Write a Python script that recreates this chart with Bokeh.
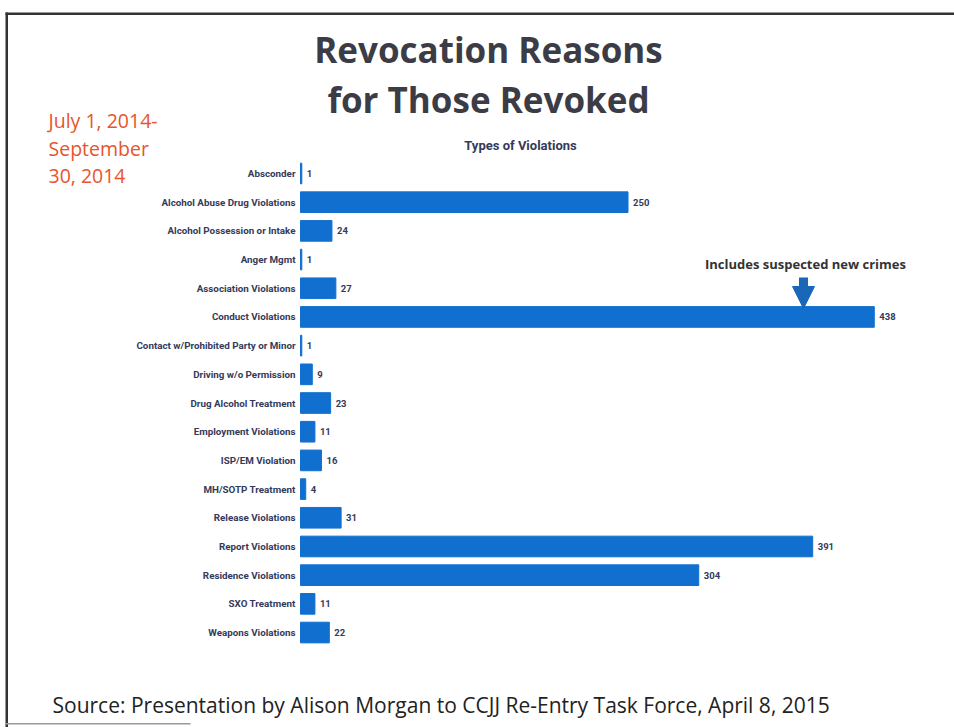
from bokeh.plotting import figure
from bokeh.models import (ColumnDataSource, Range1d, Label,
                          Arrow, NormalHead, BoxAnnotation)
from bokeh.core.properties import value
from bokeh.embed import file_html
from bokeh.resources import INLINE

categories = [
    "Absconder",
    "Alcohol Abuse Drug Violations",
    "Alcohol Possession or Intake",
    "Anger Mgmt",
    "Association Violations",
    "Conduct Violations",
    "Contact w/Prohibited Party or Minor",
    "Driving w/o Permission",
    "Drug Alcohol Treatment",
    "Employment Violations",
    "ISP/EM Violation",
    "MH/SOTP Treatment",
    "Release Violations",
    "Report Violations",
    "Residence Violations",
    "SXO Treatment",
    "Weapons Violations",
]
values = [1, 250, 24, 1, 27, 438, 1, 9, 23, 11, 16, 4, 31, 391, 304, 11, 22]

title_lines = ["Revocation Reasons", "for Those Revoked"]
subtitle = "Types of Violations"
date_lines = ["July 1, 2014-", "September", "30, 2014"]
note = "Includes suspected new crimes"
source_text = "Source: Presentation by Alison Morgan to CCJJ Re-Entry Task Force, April 8, 2015"

W, H = 954, 727
X0 = 300          # page pixel of the zero line
XS = 1.31         # pixels per violation
Y0 = 173          # page pixel of first category row
YS = 28.69        # pixels per category row

# the plot frame covers the whole page; ranges map data onto the page layout
p = figure(width=W, height=H, output_backend="svg", toolbar_location=None,
           x_range=Range1d(-X0 / XS, (W - X0) / XS),
           y_range=Range1d((H - Y0) / YS, -Y0 / YS),
           min_border=0)
p.outline_line_color = None
p.grid.visible = False
p.axis.visible = False
p.background_fill_color = "white"
p.border_fill_color = "white"

rows = list(range(len(categories)))
src = ColumnDataSource(dict(cat=categories, row=rows, value=values,
                            label=[str(v) for v in values], zero=[0] * len(values)))

p.hbar(y="row", right="value", left=0, height=0.72, source=src,
       fill_color="#1170cf", line_color="#1170cf")

LABEL_COLOR = "#343a5a"
p.text(x="zero", y="row", text="cat", source=src, x_offset=-5,
       text_align="right", text_baseline="middle",
       text_font=value("Roboto"), text_font_style="bold",
       text_font_size="9.8px", text_color=LABEL_COLOR)
p.text(x="value", y="row", text="label", source=src, x_offset=5,
       text_align="left", text_baseline="middle",
       text_font=value("Roboto"), text_font_style="bold",
       text_font_size="9.5px", text_color=LABEL_COLOR)


def lab(text, x, y, size, color, font="Open Sans", style="bold", align="left"):
    # x, y: page pixels (y downward), y is the vertical middle of the text
    p.add_layout(Label(x=x, y=H - y, x_units="screen", y_units="screen",
                       text=text, text_font=font, text_font_style=style,
                       text_font_size=size, text_color=color, text_align=align,
                       text_baseline="middle"))


lab(title_lines[0], 488, 49, "35px", "#3c3c46", align="center")
lab(title_lines[1], 488, 99, "35px", "#3c3c46", align="center")
lab(subtitle, 520, 145, "13px", LABEL_COLOR, font="Roboto", align="center")
for i, t in enumerate(date_lines):
    lab(t, 48, 120 + i * 27.5, "19.5px", "#e8542c", style="normal")
lab(note, 805, 263, "13px", "#333333", align="center")
lab(source_text, 52, 704, "21px", "#222222", style="normal")

p.add_layout(Arrow(x_start=803, y_start=H - 277, x_end=803, y_end=H - 308,
                   start_units="screen", end_units="screen",
                   line_width=9, line_color="#1a66b8",
                   end=NormalHead(size=22, fill_color="#1a66b8", line_color="#1a66b8")))


# page frame (scan border)
def box(l, r, t, b, color="#333333"):
    p.add_layout(BoxAnnotation(left=l, right=r, top=H - t, bottom=H - b,
                               left_units="screen", right_units="screen",
                               top_units="screen", bottom_units="screen",
                               fill_color=color, fill_alpha=1, line_color=None))


box(5, W, 12, 14.5)
box(5, 7.5, 12, H)
box(5, 190, 722.5, 724, color="#999999")

open("out.html", "w").write(file_html(p, INLINE))
